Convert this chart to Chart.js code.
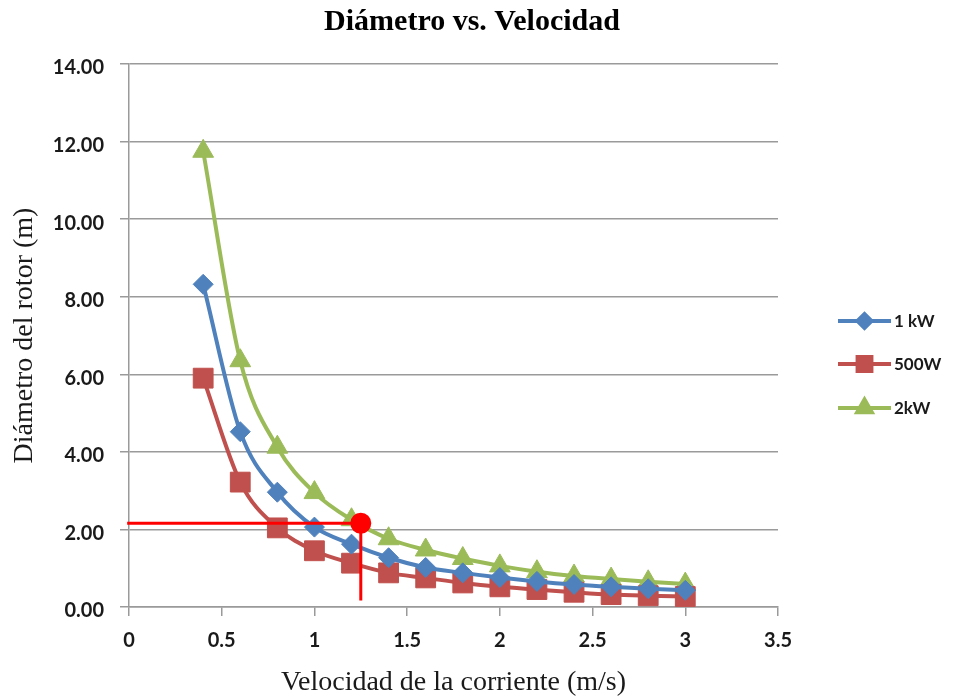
<!DOCTYPE html>
<html>
<head>
<meta charset="utf-8">
<script src="https://cdn.jsdelivr.net/npm/chart.js@4.4.1/dist/chart.umd.min.js"></script>
<style>
  html, body { margin: 0; padding: 0; background: #fff; }
  #wrap { width: 958px; height: 699px; }
</style>
</head>
<body>
<div id="wrap"><canvas id="chart" width="958" height="699"></canvas></div>
<script>
// Velocidad de la corriente (m/s) for each marker.
const velocidades = [0.4, 0.6, 0.8, 1.0, 1.2, 1.4, 1.6, 1.8, 2.0, 2.2, 2.4, 2.6, 2.8, 3.0];

// Diámetro del rotor (m).
const diam1kW = [8.32, 4.52, 2.96, 2.06, 1.62, 1.27, 1.02, 0.88, 0.76, 0.66, 0.58, 0.52, 0.47, 0.43];
const diam500W = [5.90, 3.22, 2.04, 1.45, 1.13, 0.88, 0.75, 0.62, 0.52, 0.45, 0.38, 0.32, 0.29, 0.27];
const diam2kW = [11.75, 6.35, 4.12, 2.95, 2.25, 1.76, 1.47, 1.25, 1.06, 0.91, 0.80, 0.72, 0.65, 0.59];

// Red marker: reading for 1.25 m/s.
const marcaX = [-0.01, 1.25, 1.25];
const marcaY = [2.16, 2.16, 0.17];

const TITLE = "Diámetro vs. Velocidad";
const SERIF = "'Liberation Serif', 'Times New Roman', serif";
const SANS = "Lato, 'Open Sans', sans-serif";

const COLORS = {
    blue: "#4F81BD",
    red: "#C0504D",
    green: "#9BBB59",
    mark: "#FF0000",
    grid: "#9a9a9a",
    text: "#1a1a1a",
};

const SERIES = [
    { label: "1 kW", data: diam1kW, color: COLORS.blue, style: "rectRot", r: 10 },
    { label: "500W", data: diam500W, color: COLORS.red, style: "rect", r: 14 },
    { label: "2kW", data: diam2kW, color: COLORS.green, style: "triangle", r: 12 },
];

const points = (xs, ys) => xs.map((x, i) => ({ x, y: ys[i] }));

const datasets = SERIES.map((s) => ({
    label: s.label,
    data: points(velocidades, s.data),
    borderColor: s.color,
    backgroundColor: s.color,
    borderWidth: 4,
    cubicInterpolationMode: "monotone",
    pointStyle: s.style,
    pointRadius: s.r,
    pointBorderWidth: 1,
    pointHoverRadius: s.r,
}));

// drawn last so the dot sits over the curves
datasets.push({
    label: "marca",
    order: -1,
    data: points(marcaX, marcaY),
    borderColor: COLORS.mark,
    backgroundColor: COLORS.mark,
    borderWidth: 3,
    tension: 0,
    clip: false,
    pointStyle: "circle",
    pointRadius: [0, 9, 0],
    pointHoverRadius: [0, 9, 0],
});

// Title centred on the whole picture, like the original.
const titlePlugin = {
    id: "pageTitle",
    afterDraw(chart) {
        const ctx = chart.ctx;
        ctx.save();
        ctx.fillStyle = "#000";
        ctx.font = `bold 30px ${SERIF}`;
        ctx.textAlign = "center";
        ctx.textBaseline = "middle";
        ctx.fillText(TITLE, 472, 22);
        ctx.restore();
    },
};

// Excel-style legend: short line with the marker in the middle.
const legendPlugin = {
    id: "excelLegend",
    afterDraw(chart) {
        const ctx = chart.ctx;
        const x0 = 838, x1 = 891;
        const rows = [321, 364, 408];
        ctx.save();
        SERIES.forEach((s, i) => {
            const y = rows[i];
            ctx.strokeStyle = s.color;
            ctx.lineWidth = 4;
            ctx.beginPath();
            ctx.moveTo(x0, y);
            ctx.lineTo(x1, y);
            ctx.stroke();
            ctx.fillStyle = s.color;
            Chart.helpers.drawPoint(ctx, {
                pointStyle: s.style,
                radius: s.r * 0.7,
                borderWidth: 1,
                rotation: 0,
            }, (x0 + x1) / 2, y);
            ctx.fill();
            ctx.fillStyle = COLORS.text;
            ctx.font = `bold 17px ${SANS}`;
            ctx.textBaseline = "middle";
            ctx.fillText(s.label, x1 + 3, y + 1);
        });
        ctx.restore();
    },
};

new Chart(document.getElementById("chart").getContext("2d"), {
    type: "line",
    data: { datasets },
    plugins: [titlePlugin, legendPlugin],
    options: {
        responsive: false,
        animation: false,
        layout: { padding: { top: 64, right: 180, bottom: 0, left: 0 } },
        plugins: {
            legend: { display: false },
            tooltip: { enabled: false },
            title: { display: false },
        },
        scales: {
            x: {
                type: "linear",
                min: 0,
                max: 3.5,
                afterFit: (s) => { s.height = 92; },
                ticks: {
                    stepSize: 0.5,
                    color: COLORS.text,
                    padding: 13,
                    callback: (v) => String(v),
                    font: { family: SANS, size: 20, weight: "bold" },
                },
                grid: { drawOnChartArea: false, tickLength: 9, color: COLORS.grid, lineWidth: 1.5 },
                border: { color: COLORS.grid, width: 1.5 },
                title: {
                    display: true,
                    text: "Velocidad de la corriente (m/s)",
                    color: COLORS.text,
                    font: { family: SERIF, size: 28 },
                    padding: { top: 1, bottom: 0 },
                },
            },
            y: {
                min: 0,
                max: 14,
                afterFit: (s) => { s.width = 129; },
                ticks: {
                    stepSize: 2,
                    color: COLORS.text,
                    padding: 16,
                    labelOffset: 4,
                    callback: (v) => v.toFixed(2),
                    font: { family: SANS, size: 20, weight: "bold" },
                },
                grid: { color: COLORS.grid, tickLength: 9, lineWidth: 1.5 },
                border: { color: COLORS.grid, width: 1.5 },
                title: {
                    display: true,
                    text: "Diámetro del rotor (m)",
                    color: COLORS.text,
                    font: { family: SERIF, size: 28 },
                    padding: { top: 8, bottom: 0 },
                },
            },
        },
    },
});
</script>
</body>
</html>
